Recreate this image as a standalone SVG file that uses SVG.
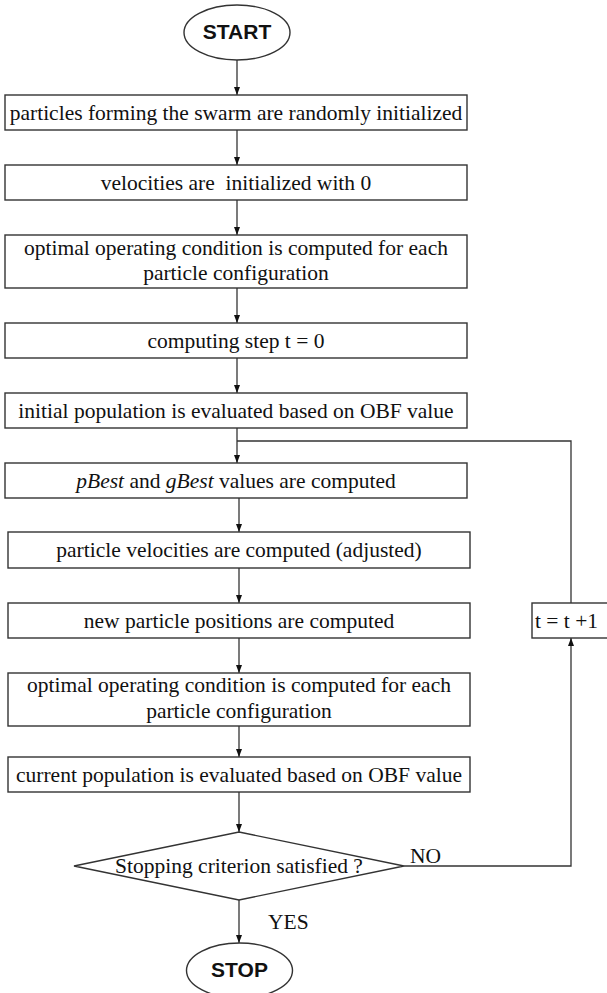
<svg xmlns="http://www.w3.org/2000/svg" width="607" height="993" viewBox="0 0 607 993">
<style>
.box{fill:#fff;stroke:#333;stroke-width:1.4}
.ln{fill:none;stroke:#333;stroke-width:1.3}
.t{font-family:"Liberation Serif","Times New Roman",serif;font-size:21.5px;fill:#111;text-anchor:middle}
.b{font-family:"Liberation Sans",Arial,sans-serif;font-size:21px;font-weight:bold;fill:#111;text-anchor:middle}
.l{font-family:"Liberation Serif","Times New Roman",serif;font-size:21.5px;fill:#111}
</style>
<defs>
<marker id="ah" markerUnits="userSpaceOnUse" markerWidth="8" markerHeight="8" viewBox="0 0 8 8" refX="8" refY="4" orient="auto">
<path d="M0,1 L8,4 L0,7 Z" fill="#111"/>
</marker>
</defs>
<rect width="607" height="993" fill="#fff"/>
<g id="connectors">
<line class="ln" x1="237" y1="60" x2="237" y2="95" marker-end="url(#ah)"/>
<line class="ln" x1="237" y1="130" x2="237" y2="165" marker-end="url(#ah)"/>
<line class="ln" x1="237" y1="200" x2="237" y2="235" marker-end="url(#ah)"/>
<line class="ln" x1="237" y1="288" x2="237" y2="323" marker-end="url(#ah)"/>
<line class="ln" x1="237" y1="358" x2="237" y2="393" marker-end="url(#ah)"/>
<line class="ln" x1="237" y1="428" x2="237" y2="463" marker-end="url(#ah)"/>
<line class="ln" x1="239" y1="498" x2="239" y2="532" marker-end="url(#ah)"/>
<line class="ln" x1="239" y1="568" x2="239" y2="603" marker-end="url(#ah)"/>
<line class="ln" x1="239" y1="638" x2="239" y2="673" marker-end="url(#ah)"/>
<line class="ln" x1="239" y1="726" x2="239" y2="757" marker-end="url(#ah)"/>
<line class="ln" x1="239" y1="792" x2="239" y2="832" marker-end="url(#ah)"/>
<line class="ln" x1="239" y1="900" x2="239" y2="943" marker-end="url(#ah)"/>
<polyline class="ln" points="404,866 571,866 571,638" marker-end="url(#ah)"/>
<polyline class="ln" points="571,603 571,441 237,441"/>
</g>
<g id="start">
<ellipse class="box" cx="237" cy="32.5" rx="53" ry="27.5"/>
<text class="b" x="237" y="39">START</text>
</g>
<g id="n1">
<rect class="box" x="5" y="95" width="462" height="35"/>
<text class="t" x="236" y="120">particles forming the swarm are randomly initialized</text>
</g>
<g id="n2">
<rect class="box" x="5" y="165" width="462" height="35"/>
<text class="t" x="236" y="190">velocities are &#160;initialized with 0</text>
</g>
<g id="n3">
<rect class="box" x="5" y="235" width="462" height="53"/>
<text class="t" x="236" y="255">optimal operating condition is computed for each</text>
<text class="t" x="236" y="280">particle configuration</text>
</g>
<g id="n4">
<rect class="box" x="5" y="323" width="462" height="35"/>
<text class="t" x="236" y="348">computing step t = 0</text>
</g>
<g id="n5">
<rect class="box" x="5" y="393" width="462" height="35"/>
<text class="t" x="236" y="418">initial population is evaluated based on OBF value</text>
</g>
<g id="n6">
<rect class="box" x="5" y="463" width="462" height="35"/>
<text class="t" x="236" y="488"><tspan font-style="italic">pBest</tspan> and <tspan font-style="italic">gBest</tspan> values are computed</text>
</g>
<g id="n7">
<rect class="box" x="8" y="532" width="462" height="36"/>
<text class="t" x="239" y="557">particle velocities are computed (adjusted)</text>
</g>
<g id="n8">
<rect class="box" x="8" y="603" width="462" height="35"/>
<text class="t" x="239" y="628">new particle positions are computed</text>
</g>
<g id="n9">
<rect class="box" x="8" y="673" width="462" height="53"/>
<text class="t" x="239" y="692">optimal operating condition is computed for each</text>
<text class="t" x="239" y="718">particle configuration</text>
</g>
<g id="n10">
<rect class="box" x="8" y="757" width="462" height="35"/>
<text class="t" x="239" y="782">current population is evaluated based on OBF value</text>
</g>
<g id="decision">
<polygon class="box" points="239,832 404,866 239,900 74,866"/>
<text class="t" x="239" y="873">Stopping criterion satisfied ?</text>
</g>
<g id="inc">
<rect class="box" x="532" y="603" width="78" height="35"/>
<text class="l" x="535" y="628">t = t +1</text>
</g>
<g id="labels">
<text class="l" x="410" y="863">NO</text>
<text class="l" x="268" y="929">YES</text>
</g>
<g id="stop">
<ellipse class="box" cx="239.5" cy="970.5" rx="53" ry="27.5"/>
<text class="b" x="239.5" y="977">STOP</text>
</g>
</svg>
